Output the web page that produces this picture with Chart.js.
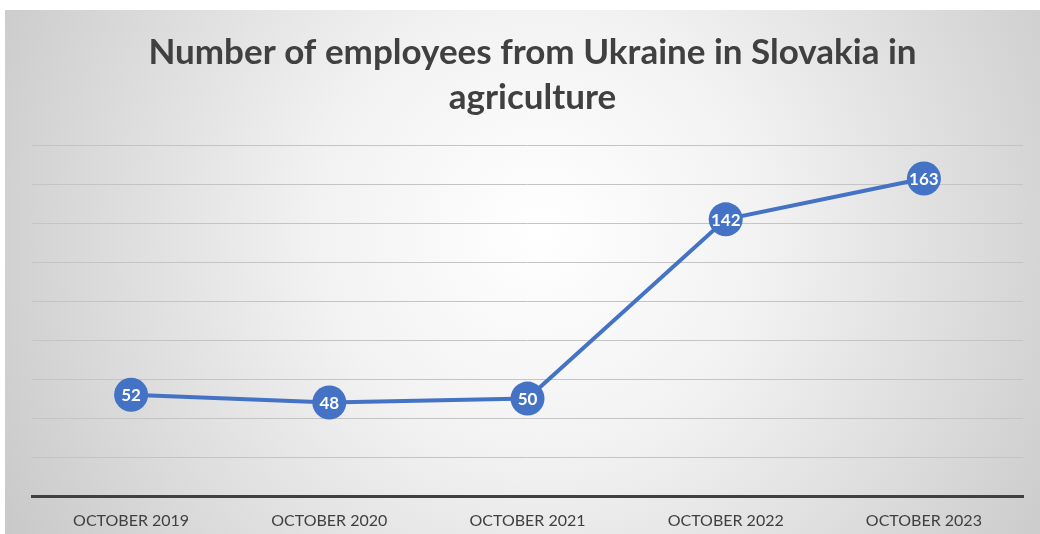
<!DOCTYPE html>
<html>
<head>
<meta charset="utf-8">
<script src="https://cdn.jsdelivr.net/npm/chart.js@4/dist/chart.umd.min.js"></script>
<style>
  html, body { margin: 0; padding: 0; background: #fff; overflow: hidden; }
  #wrap { width: 1040px; height: 534px; }
  canvas { display: block; }
</style>
</head>
<body>
<div id="wrap"><canvas id="chart" width="1040" height="534"></canvas></div>
<script>
const categories = ["OCTOBER 2019", "OCTOBER 2020", "OCTOBER 2021", "OCTOBER 2022", "OCTOBER 2023"];
const employees = [52, 48, 50, 142, 163];
const titleLines = ["Number of employees from Ukraine in Slovakia in", "agriculture"];

// background: white strip at top/left, then a radial grey gradient panel
const backgroundPlugin = {
    id: "panelBackground",
    beforeDraw(chart) {
        let ctx = chart.ctx;
        ctx.save();
        ctx.fillStyle = "#ffffff";
        ctx.fillRect(0, 0, chart.width, chart.height);
        let g = ctx.createRadialGradient(540, 230, 0, 540, 230, 640);
        g.addColorStop(0, "#ffffff");
        g.addColorStop(0.35, "#f2f2f2");
        g.addColorStop(1, "#c6c6c6");
        ctx.fillStyle = g;
        ctx.fillRect(5, 10, chart.width - 5, chart.height - 10);
        ctx.restore();
    },
};

// value labels centred inside the markers
const valueLabels = {
    id: "valueLabels",
    afterDatasetsDraw(chart) {
        let ctx = chart.ctx;
        let meta = chart.getDatasetMeta(0);
        ctx.save();
        ctx.fillStyle = "#ffffff";
        ctx.font = "bold 17px Lato, 'Open Sans', sans-serif";
        ctx.textAlign = "center";
        ctx.textBaseline = "middle";
        meta.data.forEach((pt, i) => {
            ctx.fillText(String(employees[i]), pt.x, pt.y + 1);
        });
        ctx.restore();
    },
};

new Chart(document.getElementById("chart").getContext("2d"), {
    type: "line",
    data: {
        labels: categories,
        datasets: [
            {
                label: "Employees",
                data: employees,
                borderColor: "#4472C4",
                backgroundColor: "#4472C4",
                borderWidth: 4,
                pointRadius: 17,
                pointHoverRadius: 17,
                pointBackgroundColor: "#4472C4",
                pointBorderColor: "#4472C4",
                pointBorderWidth: 0,
                tension: 0,
            },
        ],
    },
    options: {
        responsive: false,
        animation: false,
        layout: { padding: { left: 32, right: 7, top: 10, bottom: 0 } },
        plugins: {
            legend: { display: false },
            tooltip: { enabled: false },
            title: {
                display: true,
                text: titleLines,
                color: "#404040",
                font: { family: "Lato, 'Open Sans', sans-serif", size: 35, weight: "bold", lineHeight: 1.29 },
                padding: { top: 20, bottom: 25 },
            },
        },
        scales: {
            x: {
                offset: true,
                grid: { display: false, drawTicks: false },
                border: { display: true, color: "#404040", width: 3 },
                ticks: {
                    color: "#404040",
                    padding: 15,
                    font: { family: "Lato, 'Open Sans', sans-serif", size: 16 },
                    maxRotation: 0,
                },
                afterFit(scale) {
                    scale.height = 38;
                },
            },
            y: {
                min: 0,
                max: 180,
                ticks: { display: false, stepSize: 20 },
                grid: { color: "#c4c4c4", lineWidth: 1, drawTicks: false },
                border: { display: false },
            },
        },
    },
    plugins: [backgroundPlugin, valueLabels],
});
</script>
</body>
</html>
